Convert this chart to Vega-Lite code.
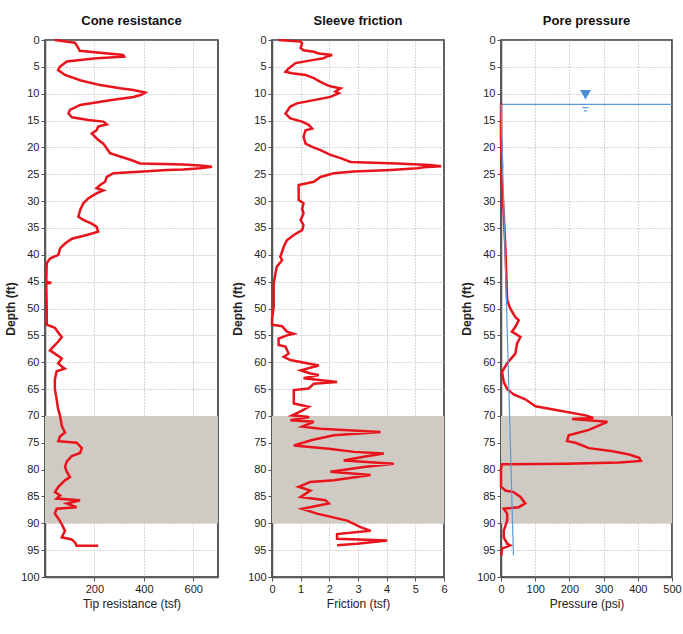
{
  "$schema": "https://vega.github.io/schema/vega-lite/v6.json",
  "padding": {"left": 3, "top": 14, "right": 1, "bottom": 4},
  "spacing": 11,
  "datasets": {
    "band": [{"top": 70, "bot": 90, "xa": 0, "xc": 700, "fa": 0, "fc": 6, "pa": 0, "pc": 500}],
    "cone": [
      {"depth": 0, "q": 40}, {"depth": 0.5, "q": 121}, {"depth": 1.5, "q": 135}, {"depth": 2, "q": 140}, {"depth": 2.8, "q": 316}, {"depth": 3.1, "q": 320}, {"depth": 3.4, "q": 209}, {"depth": 4, "q": 88}, {"depth": 5, "q": 60}, {"depth": 5.6, "q": 53}, {"depth": 6.5, "q": 81}, {"depth": 7.5, "q": 142}, {"depth": 8.4, "q": 223}, {"depth": 9, "q": 304}, {"depth": 9.3, "q": 358}, {"depth": 9.8, "q": 405}, {"depth": 10.2, "q": 390}, {"depth": 10.6, "q": 358}, {"depth": 11.2, "q": 263}, {"depth": 12.1, "q": 142}, {"depth": 13, "q": 101}, {"depth": 13.7, "q": 95}, {"depth": 14.4, "q": 109}, {"depth": 14.9, "q": 175}, {"depth": 15.2, "q": 236}, {"depth": 15.7, "q": 250}, {"depth": 16.1, "q": 215}, {"depth": 16.8, "q": 209}, {"depth": 17.4, "q": 189}, {"depth": 18, "q": 202}, {"depth": 18.6, "q": 215}, {"depth": 19.3, "q": 236}, {"depth": 20.2, "q": 250}, {"depth": 21.1, "q": 263}, {"depth": 21.7, "q": 304}, {"depth": 22.4, "q": 351}, {"depth": 23, "q": 385}, {"depth": 23.2, "q": 560}, {"depth": 23.4, "q": 640}, {"depth": 23.6, "q": 676}, {"depth": 23.9, "q": 628}, {"depth": 24.1, "q": 560}, {"depth": 24.2, "q": 493}, {"depth": 24.5, "q": 398}, {"depth": 24.8, "q": 277}, {"depth": 25.5, "q": 250}, {"depth": 26.4, "q": 243}, {"depth": 27, "q": 223}, {"depth": 27.6, "q": 209}, {"depth": 28, "q": 236}, {"depth": 28.3, "q": 220}, {"depth": 28.9, "q": 196}, {"depth": 29.5, "q": 175}, {"depth": 30.4, "q": 155}, {"depth": 31.7, "q": 142}, {"depth": 32.9, "q": 135}, {"depth": 33.5, "q": 155}, {"depth": 34.2, "q": 189}, {"depth": 34.8, "q": 209}, {"depth": 35.7, "q": 215}, {"depth": 36.3, "q": 169}, {"depth": 37, "q": 109}, {"depth": 37.9, "q": 81}, {"depth": 38.8, "q": 61}, {"depth": 40, "q": 54}, {"depth": 40.7, "q": 20}, {"depth": 41.6, "q": 7}, {"depth": 45, "q": 5}, {"depth": 45.2, "q": 25}, {"depth": 45.4, "q": 5}, {"depth": 50, "q": 7}, {"depth": 53, "q": 7}, {"depth": 53.6, "q": 40}, {"depth": 54.4, "q": 53}, {"depth": 55.3, "q": 68}, {"depth": 56.2, "q": 53}, {"depth": 57.1, "q": 34}, {"depth": 57.8, "q": 20}, {"depth": 58.4, "q": 40}, {"depth": 59.3, "q": 68}, {"depth": 60.2, "q": 53}, {"depth": 60.8, "q": 68}, {"depth": 61.2, "q": 80}, {"depth": 61.7, "q": 47}, {"depth": 63.2, "q": 40}, {"depth": 65, "q": 40}, {"depth": 66.9, "q": 47}, {"depth": 68.7, "q": 53}, {"depth": 70, "q": 61}, {"depth": 71.9, "q": 68}, {"depth": 73.1, "q": 81}, {"depth": 73.8, "q": 61}, {"depth": 74.7, "q": 54}, {"depth": 75, "q": 128}, {"depth": 76, "q": 149}, {"depth": 76.9, "q": 142}, {"depth": 77.5, "q": 108}, {"depth": 78.5, "q": 88}, {"depth": 79.5, "q": 81}, {"depth": 80.4, "q": 88}, {"depth": 81.4, "q": 101}, {"depth": 82, "q": 81}, {"depth": 83.2, "q": 54}, {"depth": 84.2, "q": 40}, {"depth": 84.8, "q": 61}, {"depth": 85.4, "q": 47}, {"depth": 85.7, "q": 142}, {"depth": 86.3, "q": 88}, {"depth": 87, "q": 128}, {"depth": 87.3, "q": 47}, {"depth": 88.2, "q": 40}, {"depth": 89.1, "q": 54}, {"depth": 90.2, "q": 68}, {"depth": 91.4, "q": 81}, {"depth": 92.6, "q": 68}, {"depth": 93, "q": 108}, {"depth": 93.6, "q": 122}, {"depth": 94.2, "q": 128}, {"depth": 94.2, "q": 215}
    ],
    "friction": [
      {"depth": 0, "f": 0.23}, {"depth": 0.3, "f": 1.0}, {"depth": 0.6, "f": 1.05}, {"depth": 1.5, "f": 1.0}, {"depth": 1.9, "f": 1.1}, {"depth": 2.2, "f": 1.46}, {"depth": 2.5, "f": 1.63}, {"depth": 2.8, "f": 2.1}, {"depth": 3.1, "f": 1.9}, {"depth": 3.4, "f": 1.8}, {"depth": 3.7, "f": 1.46}, {"depth": 4.3, "f": 0.82}, {"depth": 5.3, "f": 0.58}, {"depth": 5.9, "f": 0.47}, {"depth": 6.2, "f": 0.7}, {"depth": 6.5, "f": 1.17}, {"depth": 7.1, "f": 1.46}, {"depth": 7.8, "f": 1.69}, {"depth": 8.4, "f": 1.92}, {"depth": 8.7, "f": 2.1}, {"depth": 9, "f": 2.39}, {"depth": 9.6, "f": 2.21}, {"depth": 9.9, "f": 2.33}, {"depth": 10.6, "f": 2.04}, {"depth": 11.2, "f": 1.46}, {"depth": 11.8, "f": 0.87}, {"depth": 12.4, "f": 0.64}, {"depth": 13.7, "f": 0.47}, {"depth": 14.6, "f": 0.64}, {"depth": 15.2, "f": 1.05}, {"depth": 15.8, "f": 1.28}, {"depth": 16.5, "f": 1.4}, {"depth": 16.8, "f": 1.17}, {"depth": 18, "f": 1.1}, {"depth": 19.3, "f": 1.17}, {"depth": 19.9, "f": 1.4}, {"depth": 20.5, "f": 1.69}, {"depth": 21.4, "f": 2.04}, {"depth": 22, "f": 2.39}, {"depth": 22.7, "f": 2.74}, {"depth": 23, "f": 4.37}, {"depth": 23.3, "f": 5.5}, {"depth": 23.5, "f": 5.9}, {"depth": 23.7, "f": 5.3}, {"depth": 23.9, "f": 5.07}, {"depth": 24.2, "f": 4.14}, {"depth": 24.5, "f": 2.86}, {"depth": 24.8, "f": 2.16}, {"depth": 25.5, "f": 1.69}, {"depth": 26.4, "f": 1.46}, {"depth": 27, "f": 0.93}, {"depth": 28.6, "f": 0.93}, {"depth": 29.8, "f": 0.93}, {"depth": 30.4, "f": 1.1}, {"depth": 31.4, "f": 1.05}, {"depth": 32.3, "f": 1.1}, {"depth": 33.5, "f": 1.0}, {"depth": 34.5, "f": 1.1}, {"depth": 35.4, "f": 1.05}, {"depth": 36.3, "f": 0.76}, {"depth": 37.3, "f": 0.52}, {"depth": 38.5, "f": 0.41}, {"depth": 40.4, "f": 0.29}, {"depth": 41, "f": 0.35}, {"depth": 42.2, "f": 0.17}, {"depth": 43.5, "f": 0.12}, {"depth": 45.3, "f": 0.06}, {"depth": 49.7, "f": 0.06}, {"depth": 51.9, "f": 0}, {"depth": 53, "f": 0}, {"depth": 53.3, "f": 0.35}, {"depth": 54.3, "f": 0.52}, {"depth": 54.7, "f": 0.76}, {"depth": 55, "f": 0.52}, {"depth": 55.6, "f": 0.23}, {"depth": 56.8, "f": 0.23}, {"depth": 57.1, "f": 0.47}, {"depth": 58.4, "f": 0.58}, {"depth": 59, "f": 0.41}, {"depth": 59.6, "f": 0.64}, {"depth": 60.2, "f": 1.22}, {"depth": 60.6, "f": 1.63}, {"depth": 61.5, "f": 1.0}, {"depth": 62.1, "f": 1.34}, {"depth": 62.4, "f": 1.63}, {"depth": 63, "f": 1.1}, {"depth": 63.7, "f": 2.27}, {"depth": 64, "f": 1.46}, {"depth": 64.9, "f": 1.28}, {"depth": 65.2, "f": 0.76}, {"depth": 67.7, "f": 0.76}, {"depth": 68.3, "f": 1.28}, {"depth": 69, "f": 1.05}, {"depth": 69.9, "f": 0.7}, {"depth": 70.2, "f": 1.3}, {"depth": 70.8, "f": 0.64}, {"depth": 71.1, "f": 1.46}, {"depth": 72, "f": 1.05}, {"depth": 72.4, "f": 1.69}, {"depth": 73, "f": 3.79}, {"depth": 73.6, "f": 2.16}, {"depth": 74.5, "f": 1.4}, {"depth": 75.5, "f": 0.76}, {"depth": 76.1, "f": 1.98}, {"depth": 76.7, "f": 2.86}, {"depth": 77, "f": 3.9}, {"depth": 77.6, "f": 3.2}, {"depth": 78.3, "f": 2.5}, {"depth": 78.9, "f": 4.25}, {"depth": 79.5, "f": 3.2}, {"depth": 80.4, "f": 2.04}, {"depth": 81, "f": 3.44}, {"depth": 82, "f": 2.16}, {"depth": 82.3, "f": 1.34}, {"depth": 83.2, "f": 0.93}, {"depth": 83.9, "f": 1.34}, {"depth": 85.1, "f": 1.0}, {"depth": 85.7, "f": 1.86}, {"depth": 86.3, "f": 1.98}, {"depth": 87.3, "f": 1.05}, {"depth": 88.2, "f": 1.57}, {"depth": 89.5, "f": 2.62}, {"depth": 90.7, "f": 3.09}, {"depth": 91.4, "f": 3.44}, {"depth": 92, "f": 2.27}, {"depth": 92.9, "f": 2.27}, {"depth": 93.2, "f": 4.02}, {"depth": 93.8, "f": 2.97}, {"depth": 94.1, "f": 2.27}
    ],
    "pore": [
      {"depth": 11.8, "u": 0}, {"depth": 18.6, "u": 0}, {"depth": 23.6, "u": 3}, {"depth": 24.8, "u": 0}, {"depth": 27.3, "u": 3}, {"depth": 32.3, "u": 8}, {"depth": 39, "u": 13}, {"depth": 48.4, "u": 18}, {"depth": 50, "u": 27}, {"depth": 51.6, "u": 42}, {"depth": 52.2, "u": 52}, {"depth": 53.4, "u": 42}, {"depth": 54.3, "u": 32}, {"depth": 55.3, "u": 57}, {"depth": 56.5, "u": 47}, {"depth": 58.4, "u": 42}, {"depth": 60.2, "u": 18}, {"depth": 61.8, "u": 3}, {"depth": 63.7, "u": 8}, {"depth": 65, "u": 18}, {"depth": 66, "u": 37}, {"depth": 66.9, "u": 71}, {"depth": 68.2, "u": 101}, {"depth": 69, "u": 169}, {"depth": 69.9, "u": 247}, {"depth": 70.4, "u": 270}, {"depth": 70.6, "u": 208}, {"depth": 71.1, "u": 311}, {"depth": 72.6, "u": 257}, {"depth": 73.6, "u": 198}, {"depth": 74.7, "u": 193}, {"depth": 75, "u": 218}, {"depth": 76, "u": 257}, {"depth": 76.6, "u": 326}, {"depth": 77.2, "u": 375}, {"depth": 77.8, "u": 404}, {"depth": 78.4, "u": 409}, {"depth": 78.7, "u": 345}, {"depth": 78.9, "u": 190}, {"depth": 79, "u": 3}, {"depth": 79.8, "u": 0}, {"depth": 83.2, "u": 0}, {"depth": 83.9, "u": 13}, {"depth": 84.2, "u": 37}, {"depth": 85.1, "u": 57}, {"depth": 86.3, "u": 71}, {"depth": 87, "u": 52}, {"depth": 87.3, "u": 8}, {"depth": 88.2, "u": 18}, {"depth": 89.5, "u": 18}, {"depth": 91.4, "u": 8}, {"depth": 92.6, "u": 8}, {"depth": 93.8, "u": 18}, {"depth": 94.1, "u": 27}, {"depth": 94.7, "u": 3}, {"depth": 96, "u": 1}
    ],
    "hydro": [{"depth": 12, "u": 0}, {"depth": 96, "u": 36.4}],
    "wt": [{"depth": 12, "u0": 0, "u1": 500}],
    "wtmark": [{"depth": 10.2, "u": 247}],
    "wtdash": [{"depth": 12.6, "u0": 238, "u1": 256}, {"depth": 13.2, "u0": 242, "u1": 252}]
  },
  "hconcat": [
    {
      "width": 173, "height": 537,
      "title": "Cone resistance",
      "layer": [
        {
          "data": {"name": "band"},
          "mark": {"type": "rect", "color": "#d0cac5"},
          "encoding": {
            "x": {"field": "xa", "type": "quantitative", "title": "Tip resistance (tsf)", "scale": {"domain": [0, 700], "nice": false}, "axis": {"values": [200, 400, 600]}},
            "x2": {"field": "xc"},
            "y": {"field": "top", "type": "quantitative", "title": "Depth (ft)", "scale": {"domain": [0, 100], "reverse": true, "nice": false}, "axis": {"values": [0, 5, 10, 15, 20, 25, 30, 35, 40, 45, 50, 55, 60, 65, 70, 75, 80, 85, 90, 95, 100]}},
            "y2": {"field": "bot"}
          }
        },
        {
          "data": {"name": "cone"},
          "mark": {"type": "line", "color": "#e8131b", "strokeWidth": 2.5},
          "encoding": {
            "x": {"field": "q", "type": "quantitative", "title": "Tip resistance (tsf)", "scale": {"domain": [0, 700], "nice": false}, "axis": {"values": [200, 400, 600]}},
            "y": {"field": "depth", "type": "quantitative", "title": "Depth (ft)", "scale": {"domain": [0, 100], "reverse": true, "nice": false}, "axis": {"values": [0, 5, 10, 15, 20, 25, 30, 35, 40, 45, 50, 55, 60, 65, 70, 75, 80, 85, 90, 95, 100]}},
            "order": {"value": null}
          }
        }
      ]
    },
    {
      "width": 172, "height": 537,
      "title": "Sleeve friction",
      "layer": [
        {
          "data": {"name": "band"},
          "mark": {"type": "rect", "color": "#d0cac5"},
          "encoding": {
            "x": {"field": "fa", "type": "quantitative", "title": "Friction (tsf)", "scale": {"domain": [0, 6], "nice": false}, "axis": {"values": [0, 1, 2, 3, 4, 5, 6]}},
            "x2": {"field": "fc"},
            "y": {"field": "top", "type": "quantitative", "title": "Depth (ft)", "scale": {"domain": [0, 100], "reverse": true, "nice": false}, "axis": {"values": [0, 5, 10, 15, 20, 25, 30, 35, 40, 45, 50, 55, 60, 65, 70, 75, 80, 85, 90, 95, 100]}},
            "y2": {"field": "bot"}
          }
        },
        {
          "data": {"name": "friction"},
          "mark": {"type": "line", "color": "#e8131b", "strokeWidth": 2.5},
          "encoding": {
            "x": {"field": "f", "type": "quantitative", "title": "Friction (tsf)", "scale": {"domain": [0, 6], "nice": false}, "axis": {"values": [0, 1, 2, 3, 4, 5, 6]}},
            "y": {"field": "depth", "type": "quantitative", "title": "Depth (ft)", "scale": {"domain": [0, 100], "reverse": true, "nice": false}, "axis": {"values": [0, 5, 10, 15, 20, 25, 30, 35, 40, 45, 50, 55, 60, 65, 70, 75, 80, 85, 90, 95, 100]}},
            "order": {"value": null}
          }
        }
      ]
    },
    {
      "width": 171, "height": 537,
      "title": "Pore pressure",
      "layer": [
        {
          "data": {"name": "band"},
          "mark": {"type": "rect", "color": "#d0cac5"},
          "encoding": {
            "x": {"field": "pa", "type": "quantitative", "title": "Pressure (psi)", "scale": {"domain": [0, 500], "nice": false}, "axis": {"values": [0, 100, 200, 300, 400, 500]}},
            "x2": {"field": "pc"},
            "y": {"field": "top", "type": "quantitative", "title": "Depth (ft)", "scale": {"domain": [0, 100], "reverse": true, "nice": false}, "axis": {"values": [0, 5, 10, 15, 20, 25, 30, 35, 40, 45, 50, 55, 60, 65, 70, 75, 80, 85, 90, 95, 100]}},
            "y2": {"field": "bot"}
          }
        },
        {
          "data": {"name": "wt"},
          "mark": {"type": "rule", "color": "#5b9bd5", "strokeWidth": 1.3},
          "encoding": {
            "x": {"field": "u0", "type": "quantitative", "title": "Pressure (psi)", "scale": {"domain": [0, 500], "nice": false}, "axis": {"values": [0, 100, 200, 300, 400, 500]}},
            "x2": {"field": "u1"},
            "y": {"field": "depth", "type": "quantitative", "title": "Depth (ft)", "scale": {"domain": [0, 100], "reverse": true, "nice": false}, "axis": {"values": [0, 5, 10, 15, 20, 25, 30, 35, 40, 45, 50, 55, 60, 65, 70, 75, 80, 85, 90, 95, 100]}}
          }
        },
        {
          "data": {"name": "wtdash"},
          "mark": {"type": "rule", "color": "#5b9bd5", "strokeWidth": 1.2},
          "encoding": {
            "x": {"field": "u0", "type": "quantitative", "title": "Pressure (psi)", "scale": {"domain": [0, 500], "nice": false}, "axis": {"values": [0, 100, 200, 300, 400, 500]}},
            "x2": {"field": "u1"},
            "y": {"field": "depth", "type": "quantitative", "title": "Depth (ft)", "scale": {"domain": [0, 100], "reverse": true, "nice": false}, "axis": {"values": [0, 5, 10, 15, 20, 25, 30, 35, 40, 45, 50, 55, 60, 65, 70, 75, 80, 85, 90, 95, 100]}}
          }
        },
        {
          "data": {"name": "wtmark"},
          "mark": {"type": "point", "shape": "triangle-down", "filled": true, "color": "#4a8fd6", "size": 120, "opacity": 1},
          "encoding": {
            "x": {"field": "u", "type": "quantitative", "title": "Pressure (psi)", "scale": {"domain": [0, 500], "nice": false}, "axis": {"values": [0, 100, 200, 300, 400, 500]}},
            "y": {"field": "depth", "type": "quantitative", "title": "Depth (ft)", "scale": {"domain": [0, 100], "reverse": true, "nice": false}, "axis": {"values": [0, 5, 10, 15, 20, 25, 30, 35, 40, 45, 50, 55, 60, 65, 70, 75, 80, 85, 90, 95, 100]}}
          }
        },
        {
          "data": {"name": "pore"},
          "mark": {"type": "line", "color": "#e8131b", "strokeWidth": 2.5},
          "encoding": {
            "x": {"field": "u", "type": "quantitative", "title": "Pressure (psi)", "scale": {"domain": [0, 500], "nice": false}, "axis": {"values": [0, 100, 200, 300, 400, 500]}},
            "y": {"field": "depth", "type": "quantitative", "title": "Depth (ft)", "scale": {"domain": [0, 100], "reverse": true, "nice": false}, "axis": {"values": [0, 5, 10, 15, 20, 25, 30, 35, 40, 45, 50, 55, 60, 65, 70, 75, 80, 85, 90, 95, 100]}},
            "order": {"value": null}
          }
        },
        {
          "data": {"name": "hydro"},
          "mark": {"type": "line", "color": "#5b9bd5", "strokeWidth": 1.2},
          "encoding": {
            "x": {"field": "u", "type": "quantitative", "title": "Pressure (psi)", "scale": {"domain": [0, 500], "nice": false}, "axis": {"values": [0, 100, 200, 300, 400, 500]}},
            "y": {"field": "depth", "type": "quantitative", "title": "Depth (ft)", "scale": {"domain": [0, 100], "reverse": true, "nice": false}, "axis": {"values": [0, 5, 10, 15, 20, 25, 30, 35, 40, 45, 50, 55, 60, 65, 70, 75, 80, 85, 90, 95, 100]}},
            "order": {"value": null}
          }
        }
      ]
    }
  ],
  "config": {
    "background": "white",
    "font": "Liberation Sans",
    "view": {"stroke": "#333333", "strokeWidth": 1.6},
    "axis": {
      "labelFont": "Liberation Sans",
      "labelFontSize": 11,
      "labelColor": "#222222",
      "labelPadding": 2,
      "titleFont": "Liberation Sans",
      "titleFontSize": 12,
      "titleFontWeight": "normal",
      "titleColor": "#222222",
      "domainColor": "#555555",
      "domainWidth": 1.5,
      "tickColor": "#555555",
      "tickSize": 4,
      "gridColor": "#9a9a9a",
      "gridDash": [1, 2],
      "gridOpacity": 0.8,
      "zindex": 1
    },
    "axisY": {"titleFontWeight": "bold", "titlePadding": 3, "labelFlush": false, "labelOverlap": false},
    "axisX": {"titlePadding": 4, "labelFlush": false},
    "title": {"font": "Liberation Sans", "fontSize": 13, "fontWeight": "bold", "offset": 6, "color": "#111111"}
  }
}
